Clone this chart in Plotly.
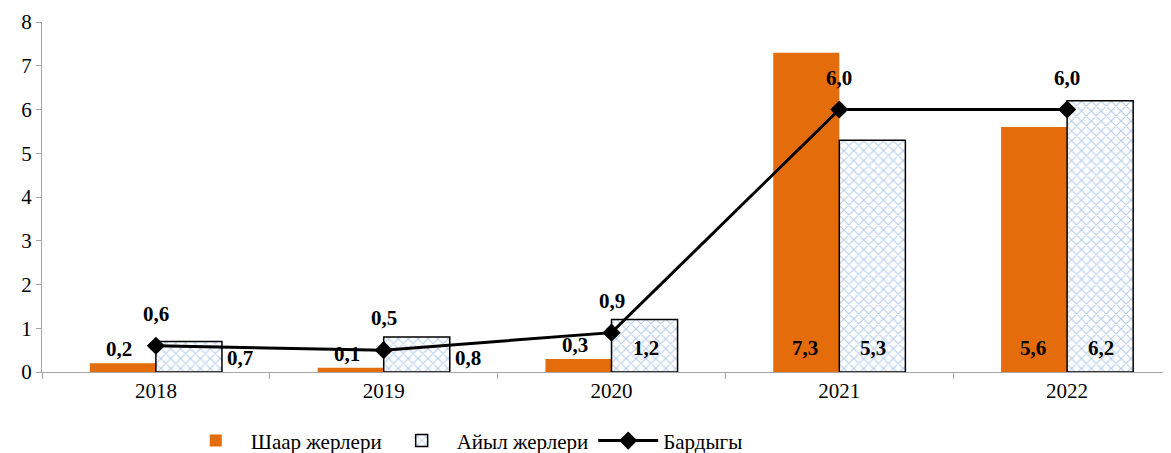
import plotly.graph_objects as go

years = ["2018", "2019", "2020", "2021", "2022"]
urban = [0.2, 0.1, 0.3, 7.3, 5.6]
rural = [0.7, 0.8, 1.2, 5.3, 6.2]
total = [0.6, 0.5, 0.9, 6.0, 6.0]
names = ["Шаар жерлери", "Айыл жерлери", "Бардыгы"]

ORANGE = "#E46C0A"
FONT = "Liberation Serif, Times New Roman, serif"

def fmt(v):
    return f"{v:.1f}".replace(".", ",")

fig = go.Figure()
fig.add_trace(go.Bar(
    x=years, y=urban, name=names[0],
    marker=dict(color=ORANGE, line=dict(width=0)),
))
fig.add_trace(go.Bar(
    x=years, y=rural, name=names[1],
    marker=dict(color="white", line=dict(color="black", width=1.5),
                pattern=dict(shape="x", fgcolor="#6E9BDB", bgcolor="white",
                             size=7, solidity=0.3)),
))
fig.add_trace(go.Scatter(
    x=years, y=total, name=names[2], mode="lines+markers",
    line=dict(color="black", width=3),
    marker=dict(symbol="diamond", size=14, color="black"),
))

ann = []
lab_font = dict(family=FONT, size=21, color="black")
def lab(i, v, y, dx, dy):
    ann.append(dict(x=i, y=y, xref="x", yref="y", text=f"<b>{fmt(v)}</b>",
                    showarrow=False, xshift=dx, yshift=dy, font=lab_font))

# urban labels: small ones above bar, large ones inside at base
for i, v in enumerate(urban):
    if v < 2:
        lab(i, v, v, -37, 14)
    else:
        lab(i, v, 0, -34, 24)
# rural labels
for i, v in enumerate(rural):
    if v < 1:
        lab(i, v, 0, 84, 14)
    else:
        lab(i, v, 0, 34, 24)
# total labels
for i, v in enumerate(total):
    lab(i, v, v, 0, 32)

# page body has an 8px default margin; compensate
fig.update_layout(
    width=1163, height=445,
    margin=dict(l=34, r=0, t=14, b=81, autoexpand=False),
    paper_bgcolor="white", plot_bgcolor="white",
    barmode="group", bargap=0.42, bargroupgap=0,
    font=dict(family=FONT, size=21, color="black"),
    showlegend=True,
    legend=dict(orientation="h", x=0.374, xanchor="center", y=-0.197, yanchor="middle",
                font=dict(family=FONT, size=21), itemwidth=60,
                traceorder="normal"),
    annotations=ann,
    xaxis=dict(type="category", range=[-0.5, 4.456], showgrid=False, automargin=False,
               showline=True, linecolor="#A6A6A6", linewidth=1,
               ticks="outside", tickson="boundaries", ticklen=6, tickcolor="#A6A6A6",
               tickfont=dict(family=FONT, size=21)),
    yaxis=dict(range=[0, 8], dtick=1, showgrid=False, zeroline=False, automargin=False,
               showline=True, linecolor="#A6A6A6", linewidth=1,
               ticks="outside", ticklen=5, tickcolor="#A6A6A6",
               tickfont=dict(family=FONT, size=21)),
)

fig.write_html("out.html")
